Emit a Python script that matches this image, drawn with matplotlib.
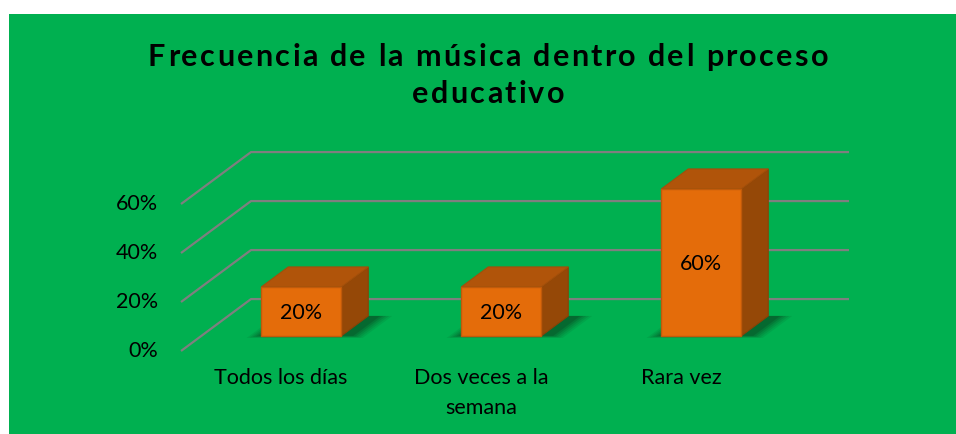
import matplotlib.pyplot as plt
from matplotlib.patches import Polygon, Rectangle
from matplotlib.font_manager import FontProperties
from matplotlib.transforms import IdentityTransform

categorias = ['Todos los días', 'Dos veces a la\nsemana', 'Rara vez']
valores = [20, 20, 60]
etiquetas = ['20%', '20%', '60%']
ticks = [0, 20, 40, 60]
tick_labels = ['0%', '20%', '40%', '60%']
titulo = ['Frecuencia de la música dentro del proceso', 'educativo']

verde = '#00B050'
frente = '#E46C0A'
arriba = '#B0540A'
lado = '#954807'
gris = '#7F7F7F'

# profundidad del "3D" (en unidades de datos)
DX, DV = 0.35, 21.2
zf, zb = 0.29, 0.675
w = 0.2


def proj(x, v, z):
    return x + z * DX, v + z * DV


plt.rcParams['font.family'] = ['Lato', 'DejaVu Sans']

fig = plt.figure(figsize=(9.56, 4.34), dpi=100, facecolor='white')
ax = fig.add_axes([0, 0, 1, 1])
ax.set_xlim(-1.405, 3.375)
ax.set_ylim(-33.88, 143.27)
ax.axis('off')
ax.add_patch(Rectangle((9 / 956, 0), 1, 420 / 434, transform=ax.transAxes,
                       facecolor=verde, edgecolor='none', zorder=0))

x0, x1 = -0.5, 2.49
# rejilla: pared lateral y pared del fondo
for t, lab in zip(ticks, tick_labels):
    a = proj(x0, t, 0)
    b = proj(x0, t, 1)
    c = proj(x1, t, 1)
    ax.plot([a[0], b[0], c[0]], [a[1], b[1], c[1]], color=gris, lw=1.6, zorder=1,
            solid_capstyle='butt')
    ax.text(-0.615, t, lab, ha='right', va='center', fontsize=15.5)

# sombras
for i, v in enumerate(valores):
    for k, al in zip(range(5), [0.10, 0.12, 0.15, 0.2, 0.25]):
        e = 0.06 - k * 0.012
        pts = [proj(i - w - e, 0, zf - 0.04 + k * 0.01),
               proj(i + w + 0.12 - k * 0.015, 0, zf - 0.04 + k * 0.01),
               proj(i + w + 0.12 - k * 0.015, 0, zb),
               proj(i - w - e, 0, zb)]
        ax.add_patch(Polygon(pts, closed=True, facecolor='#0A3D1E', edgecolor='none',
                             alpha=al, zorder=2))

# barras
for i, v in enumerate(valores):
    xl, xr = i - w, i + w
    cara = [proj(xl, 0, zf), proj(xr, 0, zf), proj(xr, v, zf), proj(xl, v, zf)]
    tapa = [proj(xl, v, zf), proj(xr, v, zf), proj(xr, v, zb), proj(xl, v, zb)]
    costado = [proj(xr, 0, zf), proj(xr, 0, zb), proj(xr, v, zb), proj(xr, v, zf)]
    ax.add_patch(Polygon(costado, closed=True, facecolor=lado, edgecolor='#8A4206', lw=0.8, zorder=3))
    ax.add_patch(Polygon(tapa, closed=True, facecolor=arriba, edgecolor='#A34F0A', lw=0.8, zorder=3))
    ax.add_patch(Polygon(cara, closed=True, facecolor=frente, edgecolor='#C05A0A', lw=1.0, zorder=4))
    cx, cy = proj(i, v / 2 - 0.8, zf)
    ax.text(cx, cy, etiquetas[i], ha='center', va='center', fontsize=15.5, zorder=5)

for i, c in enumerate(categorias):
    ax.text(i, -7.0, c, ha='center', va='top', fontsize=15.5, linespacing=1.6)

# titulo con espaciado entre letras
renderer = fig.canvas.get_renderer()
prop = FontProperties(family='Lato', weight='bold', size=22)


def ancho(s):
    return renderer.get_text_width_height_descent(s, prop, ismath=False)[0]


linea = titulo[0]
sp = (680 - ancho(linea)) / (len(linea) - 1)
ref = ancho('|')
for linea, base in zip(titulo, [434 - 66, 434 - 103]):
    total = ancho(linea) + sp * (len(linea) - 1)
    x_ini = 488 - total / 2
    for k, ch in enumerate(linea):
        xk = x_ini + ancho(linea[:k] + '|') - ref + sp * k
        fig.text(xk, base, ch, fontproperties=prop, transform=IdentityTransform(),
                 ha='left', va='baseline')

fig.savefig('out.png', dpi=100, facecolor='white')
